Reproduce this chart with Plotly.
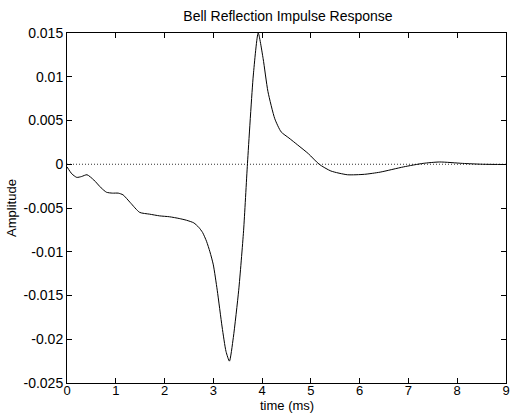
import plotly.graph_objects as go

# Impulse response samples (time in ms, amplitude)
time_ms = [0.0, 0.1, 0.2, 0.3, 0.41, 0.55, 0.7, 0.81, 0.93, 1.05, 1.15, 1.3, 1.49, 1.69, 1.9, 2.1, 2.3, 2.45,
           2.6, 2.7, 2.78, 2.86, 2.93, 3.0, 3.08, 3.18, 3.26, 3.33, 3.41, 3.52, 3.62, 3.70, 3.82, 3.92,
           4.02, 4.12, 4.26, 4.39, 4.55, 4.73, 4.95, 5.17, 5.41, 5.75, 6.1, 6.42, 6.9, 7.3, 7.64,
           8.11, 8.52, 9.0]
amplitude = [-0.0003, -0.0011, -0.0015, -0.0014, -0.0012, -0.0018, -0.0027, -0.0032, -0.0033, -0.0033,
             -0.0035, -0.0044, -0.0055, -0.0057, -0.0059, -0.0060, -0.0062, -0.0064,
             -0.0067, -0.0072, -0.0078, -0.0088, -0.0100, -0.0115, -0.0144, -0.0186, -0.0214, -0.0225,
             -0.0198, -0.0144, -0.0076, 0.0001, 0.0102, 0.0150,
             0.0121, 0.0083, 0.0052, 0.0037, 0.0030, 0.0022, 0.0012, 0.0000, -0.00077, -0.0012, -0.00115,
             -0.0009, -0.0003, 0.0001, 0.00026, 0.0001, 0.0, -0.00003]

x_ticks = [0, 1, 2, 3, 4, 5, 6, 7, 8, 9]
y_ticks = [0.015, 0.01, 0.005, 0, -0.005, -0.01, -0.015, -0.02, -0.025]
y_tick_text = ["0.015", "0.01", "0.005", "0", "-0.005", "-0.01", "-0.015", "-0.02", "-0.025"]

font_family = "Liberation Sans, Arial, Helvetica, sans-serif"

fig = go.Figure()

# zero reference line
fig.add_trace(go.Scatter(
    x=[x_ticks[0], x_ticks[-1]], y=[0, 0], mode="lines",
    line=dict(color="#333333", width=1, dash="1px,2px"), hoverinfo="skip", showlegend=False,
))

fig.add_trace(go.Scatter(
    x=time_ms, y=amplitude, mode="lines",
    line=dict(color="black", width=1, shape="spline", smoothing=0.6),
    showlegend=False,
))

axis_common = dict(
    showgrid=False, zeroline=False, showline=True, linecolor="black", linewidth=1,
    mirror="ticks", ticks="inside", ticklen=5, tickwidth=1, tickcolor="black",
    ticklabeloverflow="allow",
)

fig.update_xaxes(
    range=[0, 9], tickvals=x_ticks, ticktext=[str(v) for v in x_ticks],
    tickfont=dict(family=font_family, size=13, color="black"),
    ticklabelstandoff=-5,
    **axis_common,
)
fig.update_yaxes(
    range=[-0.025, 0.015], tickvals=y_ticks, ticktext=y_tick_text,
    tickfont=dict(family=font_family, size=14, color="black"),
    title=dict(text="Amplitude", font=dict(family=font_family, size=13, color="black"), standoff=3),
    **axis_common,
)

fig.update_layout(
    width=512, height=414,
    margin=dict(l=67, r=2, t=33, b=31),
    paper_bgcolor="white", plot_bgcolor="white",
    title=dict(text="Bell Reflection Impulse Response", x=0.5625, xanchor="center", y=0.96, yanchor="middle",
               font=dict(family=font_family, size=14, color="black")),
    annotations=[dict(
        text="time (ms)", xref="paper", yref="paper", x=0.5, y=0, xanchor="center", yanchor="bottom",
        yshift=-32, showarrow=False, font=dict(family=font_family, size=13, color="black"),
    )],
)

fig.write_html("out.html")
